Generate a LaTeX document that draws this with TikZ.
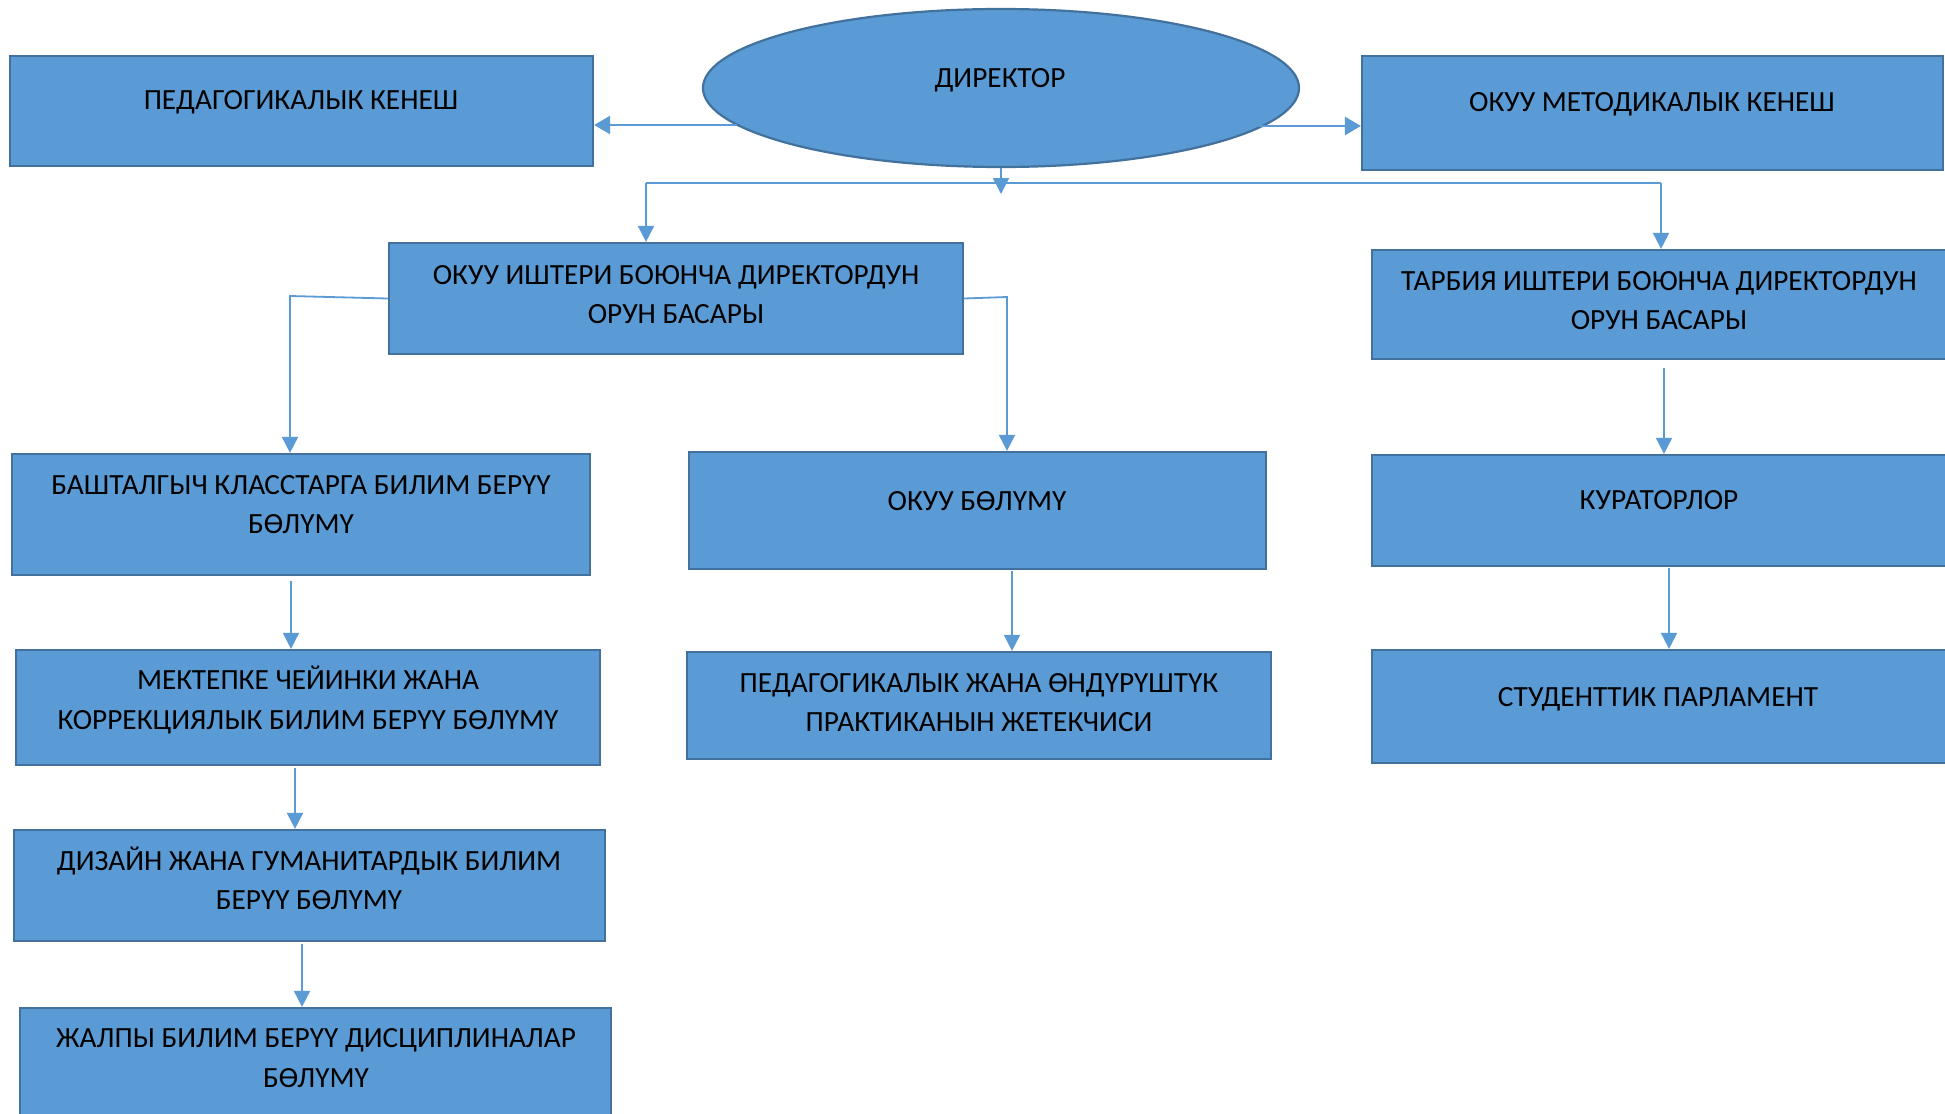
\documentclass[tikz,border=0pt]{standalone}
\usepackage{fontspec}
\setmainfont{Carlito}
\usetikzlibrary{arrows.meta,shapes.geometric}
\definecolor{boxfill}{HTML}{5B9BD5}
\definecolor{boxline}{HTML}{41719C}
\definecolor{conn}{HTML}{5B9BD5}
\tikzset{
  blk/.style={draw=boxline, fill=boxfill, line width=2.2pt, rectangle, inner sep=0pt},
  oval/.style={draw=boxline, fill=boxfill, line width=2.2pt, ellipse, inner sep=0pt},
  lbl/.style={anchor=base, inner sep=0pt, font=\fontsize{29.3}{35}\selectfont, text=black},
  arr/.style={draw=conn, line width=1.8pt, -{Triangle[length=16pt,width=16pt]}},
  arrthick/.style={draw=conn, line width=2.6pt, -{Triangle[length=16pt,width=18pt]}},
  ln/.style={draw=conn, line width=1.4pt},
}
\begin{document}
\begin{tikzpicture}[x=1pt,y=-1pt]
\useasboundingbox (0,0) rectangle (1945,1113);
\fill[white] (0,0) rectangle (1945,1113);
\clip (0,0) rectangle (1945,1113);

% boxes
\node[oval, minimum width=596pt, minimum height=158pt] (dir) at (1001,88) {};
\node[blk, minimum width=583pt, minimum height=110pt] (ped)  at (301.5,111) {};
\node[blk, minimum width=581pt, minimum height=114pt] (met)  at (1652.5,113) {};
\node[blk, minimum width=574pt, minimum height=111pt] (okuu) at (676,298.5) {};
\node[blk, minimum width=574pt, minimum height=109pt] (tarb) at (1659,304.5) {};
\node[blk, minimum width=578pt, minimum height=121pt] (bash) at (301,514.5) {};
\node[blk, minimum width=577pt, minimum height=117pt] (okb)  at (977.5,510.5) {};
\node[blk, minimum width=574pt, minimum height=111pt] (kur)  at (1659,510.5) {};
\node[blk, minimum width=584pt, minimum height=115pt] (mek)  at (308,707.5) {};
\node[blk, minimum width=584pt, minimum height=107pt] (pedj) at (979,705.5) {};
\node[blk, minimum width=574pt, minimum height=113pt] (stud) at (1659,706.5) {};
\node[blk, minimum width=591pt, minimum height=111pt] (diz)  at (309.5,885.5) {};
\node[blk, minimum width=591pt, minimum height=117pt] (jal)  at (315.5,1066.5) {};

% texts
\node[lbl] (dirt) at (1000,88) {ДИРЕКТОР};
\node[lbl] (pedt) at (301,110) {ПЕДАГОГИКАЛЫК КЕНЕШ};
\node[lbl] (mett) at (1652,112) {ОКУУ МЕТОДИКАЛЫК КЕНЕШ};
\node[lbl] (okuut1) at (676,284) {ОКУУ ИШТЕРИ БОЮНЧА ДИРЕКТОРДУН};
\node[lbl] (okuut2) at (676,323) {ОРУН БАСАРЫ};
\node[lbl] (tarbt1) at (1659,290) {ТАРБИЯ ИШТЕРИ БОЮНЧА ДИРЕКТОРДУН};
\node[lbl] (tarbt2) at (1659,329) {ОРУН БАСАРЫ};
\node[lbl] (basht1) at (301,494) {БАШТАЛГЫЧ КЛАССТАРГА БИЛИМ БЕРҮҮ};
\node[lbl] (basht2) at (301,533) {БӨЛҮМҮ};
\node[lbl] (okbt) at (977,510) {ОКУУ БӨЛҮМҮ};
\node[lbl] (kurt) at (1659,509) {КУРАТОРЛОР};
\node[lbl] (mekt1) at (308,689) {МЕКТЕПКЕ ЧЕЙИНКИ ЖАНА};
\node[lbl] (mekt2) at (308,729) {КОРРЕКЦИЯЛЫК БИЛИМ БЕРҮҮ БӨЛҮМҮ};
\node[lbl] (pedjt1) at (979,692) {ПЕДАГОГИКАЛЫК ЖАНА ӨНДҮРҮШТҮК};
\node[lbl] (pedjt2) at (979,731) {ПРАКТИКАНЫН ЖЕТЕКЧИСИ};
\node[lbl] (studt) at (1658,706) {СТУДЕНТТИК ПАРЛАМЕНТ};
\node[lbl] (dizt1) at (309,870) {ДИЗАЙН ЖАНА ГУМАНИТАРДЫК БИЛИМ};
\node[lbl] (dizt2) at (309,909) {БЕРҮҮ БӨЛҮМҮ};
\node[lbl] (jalt1) at (316,1047) {ЖАЛПЫ БИЛИМ БЕРҮҮ ДИСЦИПЛИНАЛАР};
\node[lbl] (jalt2) at (316,1087) {БӨЛҮМҮ};

% connectors
\coordinate (a1) at (737,125);
\coordinate (a2) at (1259,126);
\draw[arrthick] (a1) -- (ped.east |- a1);
\draw[arrthick] (a2) -- (met.west |- a2);
\coordinate (a3) at (1001,194);
\draw[arr] (dir.south) -- (a3);
\coordinate (hl) at (646,183);
\coordinate (hr) at (1661,183);
\draw[ln] (hl) -- (hr);
\draw[arr] (hl) -- (okuu.north -| hl);
\draw[arr] (hr) -- (tarb.north -| hr);
\coordinate (l1) at (290,296);
\draw[arr] (okuu.west) -- (l1) -- (bash.north -| l1);
\coordinate (r1) at (1007,297);
\draw[arr] (okuu.east) -- (r1) -- (okb.north -| r1);
\coordinate (c1) at (1664,368);
\draw[arr] (c1) -- (kur.north -| c1);
\coordinate (c2) at (291,581);
\draw[arr] (c2) -- (mek.north -| c2);
\coordinate (c3) at (1012,571);
\draw[arr] (c3) -- (pedj.north -| c3);
\coordinate (c4) at (1669,568);
\draw[arr] (c4) -- (stud.north -| c4);
\coordinate (c5) at (295,768);
\draw[arr] (c5) -- (diz.north -| c5);
\coordinate (c6) at (302,944);
\draw[arr] (c6) -- (jal.north -| c6);
\end{tikzpicture}
\end{document}
